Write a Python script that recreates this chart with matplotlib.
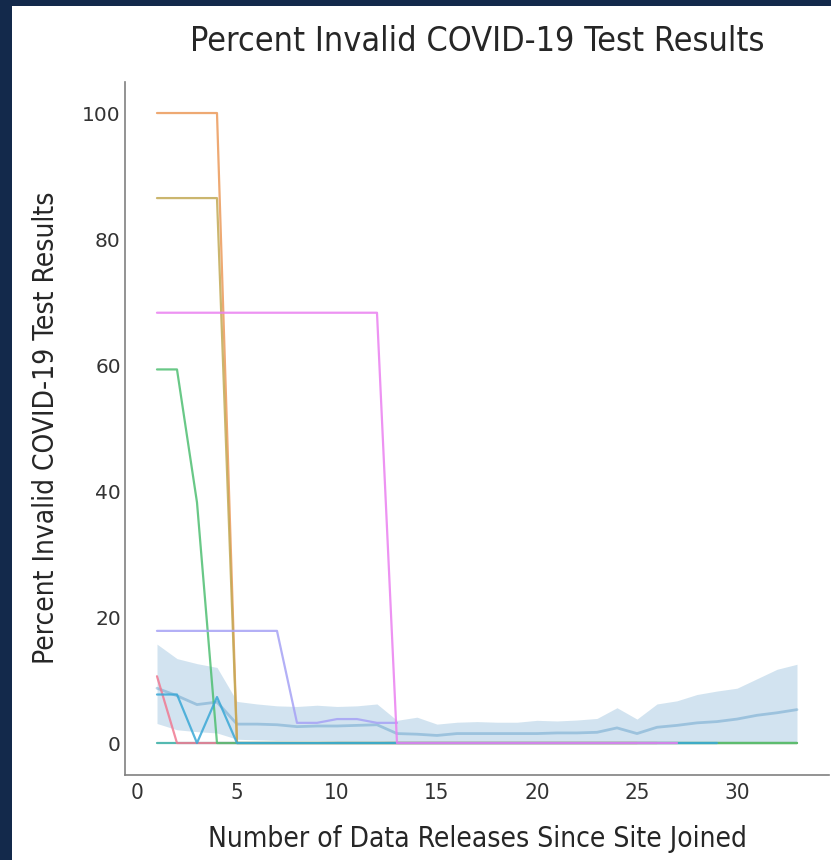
import numpy as np
import matplotlib
matplotlib.use('Agg')
import matplotlib.pyplot as plt
from matplotlib.patches import Rectangle
import seaborn as sns

# aggregate band (mean with interval) across all sites
releases = np.arange(1, 34)
mean_pct = [8.7, 7.5, 6.1, 6.5, 3.0, 3.0, 2.9, 2.6, 2.7, 2.7, 2.8, 2.9, 1.5, 1.4, 1.2,
            1.5, 1.5, 1.5, 1.5, 1.5, 1.6, 1.6, 1.7, 2.4, 1.5, 2.5, 2.8, 3.2, 3.4, 3.8,
            4.4, 4.8, 5.3]
upper_pct = [15.7, 13.4, 12.6, 12.0, 6.6, 6.2, 5.9, 5.8, 6.0, 5.8, 5.9, 6.2, 3.6, 4.1, 3.0,
             3.3, 3.4, 3.3, 3.3, 3.6, 3.5, 3.65, 3.9, 5.6, 3.8, 6.2, 6.7, 7.7, 8.25, 8.7,
             10.2, 11.7, 12.5]
lower_pct = [3.1, 2.1, 1.8, 1.6, 0.6, 0.5, 0.4, 0.4, 0.4, 0.3, 0.3, 0.3, 0.2, 0.2, 0.2,
             0.2, 0.2, 0.2, 0.2, 0.2, 0.2, 0.2, 0.2, 0.2, 0.2, 0.2, 0.2, 0.2, 0.2, 0.2,
             0.2, 0.2, 0.2]

# individual sites
site_pink = [10.6, 0] + [0] * 24
site_orange = [100, 100, 100, 100] + [0] * 21
site_olive = [86.5, 86.5, 86.5, 86.5] + [0] * 29
site_green = [59.3, 59.3, 38.2] + [0] * 30
site_cyan = [7.7, 7.7, 0, 7.3] + [0] * 25
site_lavender = [17.8] * 7 + [3.2, 3.2, 3.8, 3.8, 3.2, 3.2]
site_magenta = [68.3] * 12 + [0] * 15
site_teal = [0] * 33

sites = [site_teal, site_pink, site_orange, site_olive, site_green,
         site_cyan, site_lavender, site_magenta]
site_colors = ['#36ada4', '#f07a92', '#eb9a5a', '#c2aa55', '#4fbf72',
               '#3aa8d6', '#a6a2f5', '#ea80f0']

sns.set_style('white')
plt.rcParams['font.family'] = ['DejaVu Sans']

fig = plt.figure(figsize=(8.31, 8.60), dpi=100)
fig.patch.set_facecolor('#13294b')
fig.add_artist(Rectangle((12 / 831, 0), 1, 1 - 6 / 860, transform=fig.transFigure,
                         facecolor='white', edgecolor='none', zorder=0))
ax = fig.add_axes([0.1504, 0.0994, 0.8472, 0.8058])
ax.set_facecolor('none')

ax.fill_between(releases, lower_pct, upper_pct, color='#1f77b4', alpha=0.2, lw=0)
ax.plot(releases, mean_pct, color='#1f77b4', alpha=0.3, lw=2)

for vals, c in zip(sites, site_colors):
    ax.plot(releases[:len(vals)], vals, color=c, lw=1.6, alpha=0.85)

ax.set_xlim(-0.6, 34.6)
ax.set_ylim(-5, 105)
ax.set_xticks([0, 5, 10, 15, 20, 25, 30])
ax.set_yticks([0, 20, 40, 60, 80, 100])

cond = dict(fontstretch='condensed')
ax.set_xticklabels(['0', '5', '10', '15', '20', '25', '30'], fontsize=16, color='#333333', **cond)
ax.tick_params(axis='y', labelsize=14.5, labelcolor='#333333', pad=3, length=0)
ax.tick_params(axis='x', pad=6, length=0)

for s in ['top', 'right']:
    ax.spines[s].set_visible(False)
for s in ['left', 'bottom']:
    ax.spines[s].set_color('#808080')
    ax.spines[s].set_linewidth(1.2)

ax.set_title('Percent Invalid COVID-19 Test Results', fontsize=24.5, color='#262626', pad=22, **cond)
ax.set_xlabel('Number of Data Releases Since Site Joined', fontsize=20.2, color='#262626', labelpad=16, **cond)
ax.set_ylabel('Percent Invalid COVID-19 Test Results', fontsize=20.2, color='#262626', labelpad=16, **cond)

fig.savefig('out.png', dpi=100, facecolor=fig.get_facecolor())
